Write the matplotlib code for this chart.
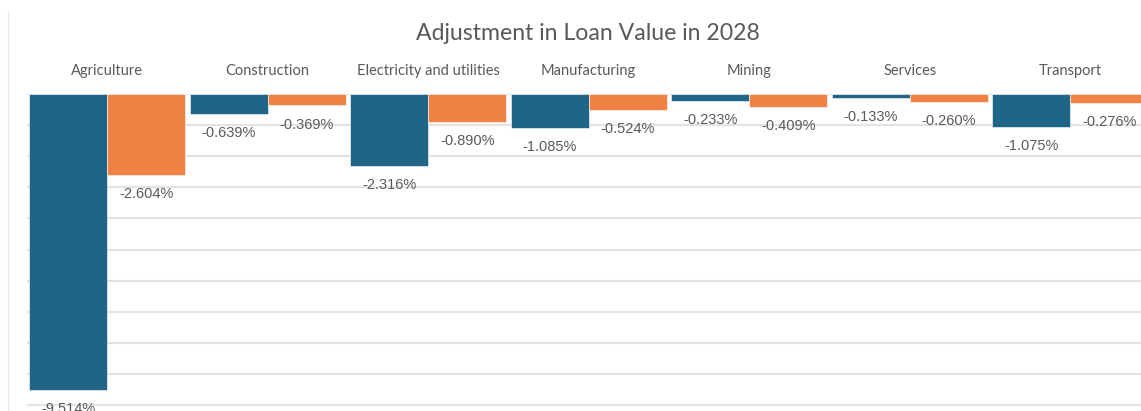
import numpy as np
import matplotlib
import matplotlib.pyplot as plt
from matplotlib.lines import Line2D

matplotlib.use('Agg')

sectors = ['Agriculture', 'Construction', 'Electricity and utilities', 'Manufacturing',
           'Mining', 'Services', 'Transport']
series_a = [-9.514, -0.639, -2.316, -1.085, -0.233, -0.133, -1.075]
series_b = [-2.604, -0.369, -0.890, -0.524, -0.409, -0.260, -0.276]

BLUE = '#1F6587'
ORANGE = '#F08246'
TEXT = '#595959'
GRID = '#E3E3E3'

fig = plt.figure(figsize=(11.41, 4.11), dpi=100)
fig.patch.set_facecolor('white')

# axes runs a little past the right edge, so the last group is clipped
ax = fig.add_axes([27 / 1141, 0, 7 * 160.5 / 1141, 317 / 411])

x = np.arange(len(sectors))
w = 0.486
bars_a = ax.bar(x - w / 2, series_a, width=w, color=BLUE, edgecolor='white', linewidth=0.4, zorder=3)
bars_b = ax.bar(x + w / 2, series_b, width=w, color=ORANGE, edgecolor='white', linewidth=0.4, zorder=3)

ax.set_xlim(-0.5, len(sectors) - 0.5)
ax.set_ylim(-317 / 31.1, 0)
ax.set_yticks(np.arange(0, -11, -1))
ax.yaxis.grid(True, color=GRID, linewidth=1.5, zorder=0)
ax.tick_params(left=False, bottom=False, labelleft=False, labelbottom=False)
for s in ax.spines.values():
    s.set_visible(False)

# value labels under each bar end
for bars, vals in ((bars_a, series_a), (bars_b, series_b)):
    for b, v in zip(bars, vals):
        ax.annotate(f'{v:.3f}%', xy=(b.get_x() + b.get_width() / 2, v),
                    xytext=(0, -13.7), textcoords='offset points',
                    ha='center', va='center', fontsize=10.5, color=TEXT,
                    family='Liberation Sans', annotation_clip=False, clip_on=False)

# sector names above the groups
for i, name in enumerate(sectors):
    ax.annotate(name, xy=(i, 1), xycoords=('data', 'axes fraction'),
                xytext=(0, 16.5), textcoords='offset points',
                ha='center', va='center', fontsize=10.5, color=TEXT, family='Lato')

fig.text(588 / 1141, 1 - 33.5 / 411, 'Adjustment in Loan Value in 2028',
         ha='center', va='center', fontsize=16.6, color=TEXT, family='Lato')

fig.add_artist(Line2D([8 / 1141, 8 / 1141], [0, 1 - 11 / 411], transform=fig.transFigure,
                      color='#EBEBEB', linewidth=1))

fig.savefig('out.png', dpi=100, facecolor='white')
